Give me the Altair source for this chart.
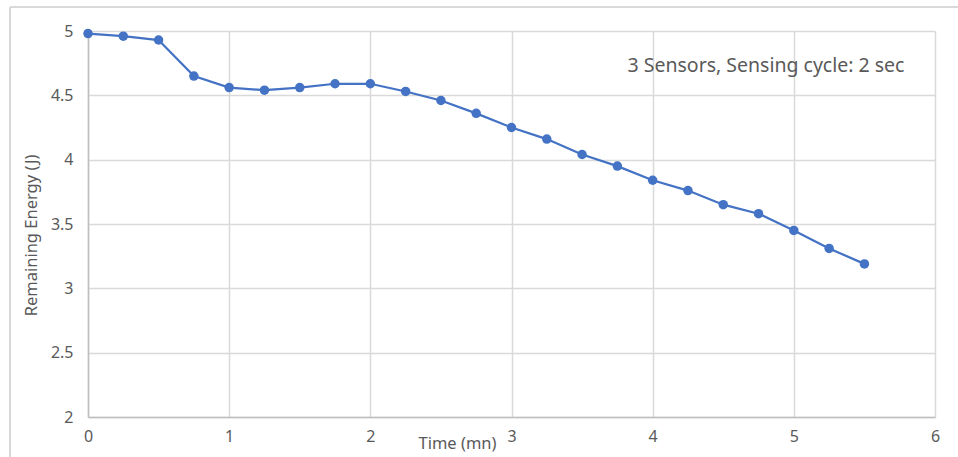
import altair as alt
import pandas as pd

time_mn = [0, 0.25, 0.5, 0.75, 1, 1.25, 1.5, 1.75, 2, 2.25, 2.5, 2.75, 3,
           3.25, 3.5, 3.75, 4, 4.25, 4.5, 4.75, 5, 5.25, 5.5]
energy_j = [4.98, 4.96, 4.93, 4.65, 4.56, 4.54, 4.56, 4.59, 4.59, 4.53, 4.46,
            4.36, 4.25, 4.16, 4.04, 3.95, 3.84, 3.76, 3.65, 3.58, 3.45, 3.31, 3.19]
x_ticks = [0, 1, 2, 3, 4, 5, 6]
y_ticks = [2, 2.5, 3, 3.5, 4, 4.5, 5]
annotation = "3 Sensors, Sensing cycle: 2 sec"

df = pd.DataFrame({"t": time_mn, "e": energy_j})
FONT = "Noto Sans"
LABEL = "#595959"
GRID = "#d9d9d9"
BLUE = "#4472C4"

x = alt.X("t:Q", scale=alt.Scale(domain=[0, 6], nice=False),
          axis=alt.Axis(values=x_ticks, title="Time (mn)", format="~g",
                        labelPadding=11, ticks=False, domainColor="#bfbfbf",
                        labelFlush=False,
                        titleX=369, titleY=26, titleAlign="center", titleBaseline="middle",
                        titleFontWeight="normal", titleFontSize=16.5, titleColor=LABEL))
y = alt.Y("e:Q", scale=alt.Scale(domain=[2, 5], nice=False, zero=False),
          axis=alt.Axis(values=y_ticks, title="Remaining Energy (J)", format="~g",
                        labelPadding=15, ticks=False, domainColor="#bfbfbf",
                        labelFlush=False,
                        titleX=-57, titleY=204, titleAngle=-90, titleAlign="center",
                        titleBaseline="middle", titleFontWeight="normal",
                        titleFontSize=16.5, titleColor=LABEL))

line = alt.Chart(df).mark_line(color=BLUE, strokeWidth=2.25).encode(x=x, y=y)
pts = alt.Chart(df).mark_point(filled=True, color=BLUE, size=90, opacity=1).encode(x="t:Q", y="e:Q")

txt = alt.Chart(pd.DataFrame({"label": [annotation]})).mark_text(
    font=FONT, fontSize=19.5, color=LABEL, align="center", baseline="middle"
).encode(text="label:N", x=alt.value(678), y=alt.value(35))

border_top = alt.Chart(pd.DataFrame({"a": [0]})).mark_rule(color=GRID, strokeWidth=2).encode(
    x=alt.value(-78), x2=alt.value(900), y=alt.value(-24))
border_left = alt.Chart(pd.DataFrame({"a": [0]})).mark_rule(color=GRID, strokeWidth=2).encode(
    x=alt.value(-78), y=alt.value(-24), y2=alt.value(460))

chart = alt.layer(line, pts, txt, border_top, border_left).properties(
    width=847, height=386,
    autosize=alt.AutoSizeParams(type="none"),
    padding={"left": 88, "top": 31, "right": 23, "bottom": 40},
    background="white",
).configure_view(stroke=None).configure_axis(
    labelFont=FONT, titleFont=FONT, labelFontSize=16, labelColor=LABEL,
    gridColor=GRID, gridWidth=1.5, domainWidth=1.5,
).configure_axisY(labelAlign="right")

chart.save("out.html", embed_options={"renderer": "svg", "actions": False})
